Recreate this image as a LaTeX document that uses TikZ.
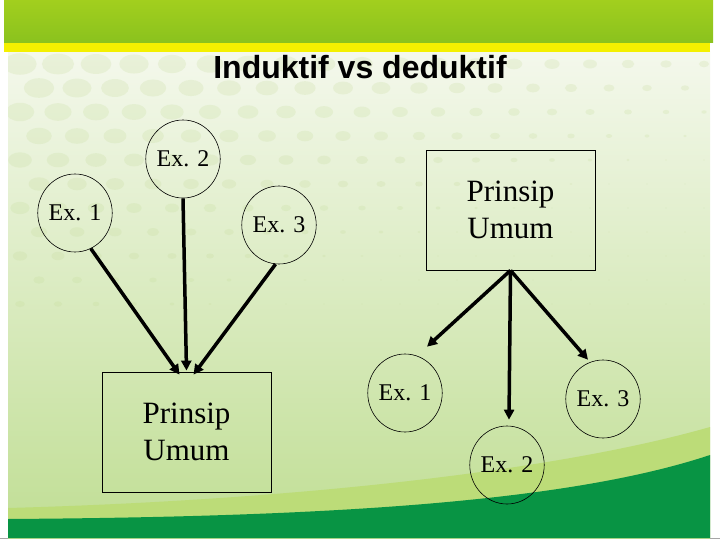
\documentclass[tikz,border=0pt]{standalone}
\usepackage{fontspec}
\setmainfont{Liberation Serif}
\newfontfamily\titlefont{Liberation Sans}
\usetikzlibrary{arrows.meta,calc,shapes.geometric}
\definecolor{hdrtop}{RGB}{162,207,30}
\definecolor{hdrbot}{RGB}{138,194,30}
\definecolor{stripe}{RGB}{244,240,0}
\definecolor{bodytop}{RGB}{244,248,236}
\definecolor{bodybot}{RGB}{192,222,148}
\definecolor{darkgreen}{RGB}{8,148,68}
\definecolor{lightband}{RGB}{188,220,120}
\definecolor{dotcol}{RGB}{195,218,150}
\tikzset{
  exnode/.style={draw=black,line width=0.6pt,ellipse,minimum width=66pt,minimum height=78pt,inner sep=0pt,font=\fontsize{24}{27}\selectfont},
  pbox/.style={draw=black,line width=0.8pt,rectangle,minimum width=169pt,minimum height=120pt,align=center,inner sep=0pt,font=\fontsize{31}{37}\selectfont},
  arr/.style={line width=3.5pt,-{Triangle[length=10pt,width=10pt]}},
}
\begin{document}
\begin{tikzpicture}[x=1pt,y=-1pt]
\useasboundingbox (0,0) rectangle (720,540);
\fill[white] (0,0) rectangle (720,540);
% slide body
\shade[top color=bodytop,bottom color=bodybot] (8,52) rectangle (710,538);
% dots
\begin{scope}
\clip (8,52) rectangle (710,340);
\foreach \r in {0,...,10}{
  \foreach \c in {0,...,18}{
    \pgfmathsetmacro{\xx}{20+38*\c+mod(\r,2)*19}
    \pgfmathsetmacro{\yy}{64+24*\r}
    \pgfmathsetmacro{\ff}{max(0.05,1-\xx/1000-\r*0.07)}
    \fill[dotcol,fill opacity=0.22] (\xx,\yy) ellipse ({17*\ff} and {11*\ff});
  }
}
\end{scope}
% header
\shade[top color=hdrtop,bottom color=hdrbot] (4,0) rectangle (713,43);
\fill[stripe] (4,43) rectangle (710,52);
% bottom bands
\fill[lightband] (8,508) .. controls (300,500) and (560,470) .. (710,427) -- (710,538) -- (8,538) -- cycle;
\fill[darkgreen] (8,519) .. controls (300,517) and (560,505) .. (710,455) -- (710,538) -- (8,538) -- cycle;
\draw[gray!70,line width=0.5pt] (0,538) -- (8,538) (710,538) -- (720,538);
% title
\node[font=\titlefont\bfseries\fontsize{32}{36}\selectfont,anchor=base] (title) at (360,79) {Induktif vs deduktif};
% left: induktif
\node[exnode] (l1) at (75,213) {Ex. 1};
\node[exnode] (l2) at (183,159) {Ex. 2};
\node[exnode] (l3) at (279,225) {Ex. 3};
\node[pbox] (lbox) at (186.5,432) {Prinsip\\Umum};
\draw[arr] (l1.-66) -- ($(lbox.north)+(-7,3)$);
\draw[arr] (l2.south) -- ($(lbox.north)+(0,-1)$);
\draw[arr] (l3.-95) -- ($(lbox.north)+(7,3)$);
% right: deduktif
\node[pbox] (rbox) at (510.5,210) {Prinsip\\Umum};
\node[exnode] (r1) at (405,393) {Ex. 1};
\node[exnode] (r2) at (507,465) {Ex. 2};
\node[exnode] (r3) at (603,399) {Ex. 3};
\draw[arr] (rbox.south) -- ($(r1.north)+(22,-7)$);
\draw[arr] (rbox.south) -- ($(r2.north)+(2,-6)$);
\draw[arr] (rbox.south) -- ($(r3.north)+(-15,0)$);
\end{tikzpicture}
\end{document}
